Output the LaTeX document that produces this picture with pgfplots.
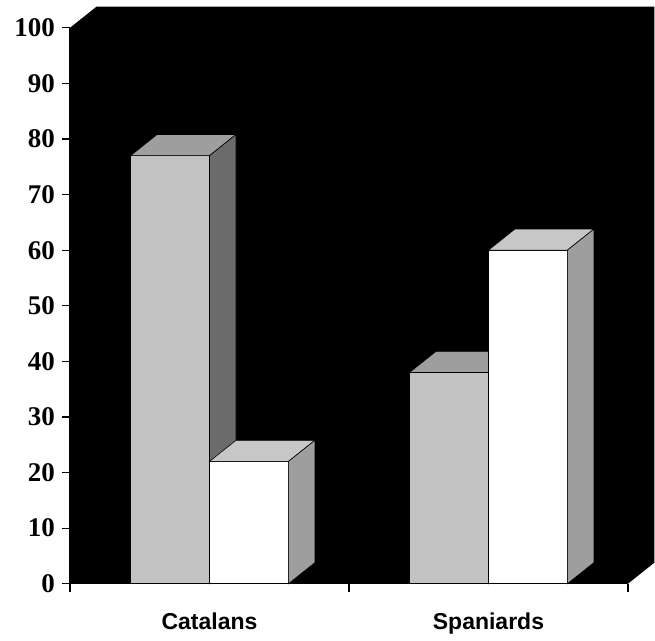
\documentclass[border=0pt]{standalone}
\usepackage{pgfplots}
\pgfplotsset{compat=1.18}
\usepackage{fontspec}
\setmainfont{Liberation Serif}
\newfontfamily\arialfont{Liberation Sans}
\definecolor{gfront}{gray}{0.76}
\definecolor{gtop}{gray}{0.62}
\definecolor{gside}{gray}{0.42}
\definecolor{wtop}{gray}{0.78}
\definecolor{wside}{gray}{0.62}
\begin{document}
\begin{tikzpicture}
\begin{axis}[
 scale only axis, width=279pt, height=278pt,
 xmin=0, xmax=2, ymin=0, ymax=100,
 clip=false, axis on top,
 axis x line*=bottom, axis y line*=left,
 xtick={0,1,2}, xticklabels={},
 extra x ticks={0.5,1.5}, extra x tick labels={Catalans,Spaniards},
 extra x tick style={major tick length=0pt, xticklabel style={font=\arialfont\bfseries\fontsize{11.5}{12}\selectfont, yshift=-11pt}},
 ytick={0,10,...,100},
 tick align=outside, major tick length=4pt,
 yticklabel style={font=\bfseries\fontsize{13.5}{14}\selectfont},
 /pgf/number format/assume math mode=true,
 tick style={black, line width=0.6pt},
 axis line style={black, line width=0.6pt},
]
% back wall
\addplot[fill=black, draw=none] coordinates {(0,0) (0,100) (0.095,103.8) (2.095,103.8) (2.095,3.8) (2,0)} -- cycle;
% series 1 (gray)
\addplot[ybar, bar width=0.283, bar shift=-0.1415, fill=gfront, draw=black, line width=0.5pt] coordinates {(0.5,77) (1.5,38)};
\addplot[fill=gtop, draw=black, line width=0.3pt] coordinates {(0.217,77) (0.312,80.8) (0.595,80.8) (0.5,77)} -- cycle;
\addplot[fill=gside, draw=black, line width=0.3pt] coordinates {(0.5,0) (0.5,77) (0.595,80.8) (0.595,3.8)} -- cycle;
\addplot[fill=gtop, draw=black, line width=0.3pt] coordinates {(1.217,38) (1.312,41.8) (1.595,41.8) (1.5,38)} -- cycle;
\addplot[fill=gside, draw=black, line width=0.3pt] coordinates {(1.5,0) (1.5,38) (1.595,41.8) (1.595,3.8)} -- cycle;
% series 2 (white)
\addplot[ybar, bar width=0.283, bar shift=0.1415, fill=white, draw=black, line width=0.5pt] coordinates {(0.5,22) (1.5,60)};
\addplot[fill=wtop, draw=black, line width=0.3pt] coordinates {(0.5,22) (0.595,25.8) (0.878,25.8) (0.783,22)} -- cycle;
\addplot[fill=wside, draw=black, line width=0.3pt] coordinates {(0.783,0) (0.783,22) (0.878,25.8) (0.878,3.8)} -- cycle;
\addplot[fill=wtop, draw=black, line width=0.3pt] coordinates {(1.5,60) (1.595,63.8) (1.878,63.8) (1.783,60)} -- cycle;
\addplot[fill=wside, draw=black, line width=0.3pt] coordinates {(1.783,0) (1.783,60) (1.878,63.8) (1.878,3.8)} -- cycle;
\path (axis cs:-0.251,-8.63) rectangle (axis cs:2.097,105);
\end{axis}
\end{tikzpicture}
\end{document}
